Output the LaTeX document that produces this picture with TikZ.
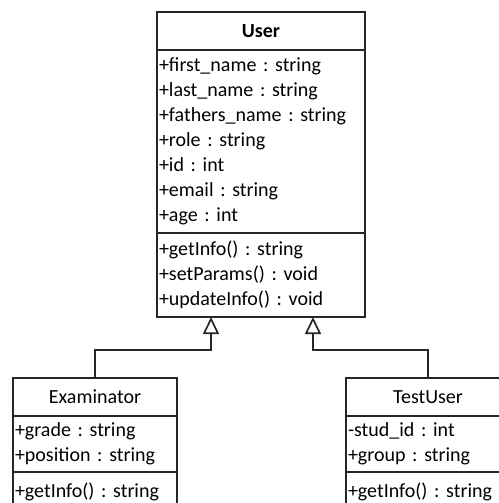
\documentclass[tikz,border=0pt]{standalone}
\usepackage{fontspec}
\setmainfont{Carlito}
\frenchspacing
\usetikzlibrary{arrows.meta,positioning}

\begin{document}
\begin{tikzpicture}[
    x=1pt, y=1pt,
    font=\fontsize{10}{12.5}\selectfont,
    classname/.style={draw=black!85, line width=.85pt, outer sep=0pt,
      inner xsep=1pt, inner ysep=2pt, align=center, text width=#1,
      minimum height=19pt},
    fields/.style={draw=black!85, line width=.85pt, outer sep=0pt,
      inner xsep=1pt, inner ysep=2pt, align=left, text width=#1},
    gen/.style={-{Triangle[open, length=8.5pt, width=8pt]}, line width=.85pt,
      draw=black!85}
  ]
    \useasboundingbox (0,0) rectangle (249,-251.5);
    \node[classname=102pt, font=\fontsize{10}{12.5}\selectfont\bfseries] (user) at (130.5,-15.5) {User};
    \node[fields=102pt, minimum height=91.5pt, below=0pt of user] (userattr)
      {+first\_name : string\\+last\_name : string\\+fathers\_name : string\\+role : string\\+id : int\\+email : string\\+age : int};
    \node[fields=102pt, minimum height=42pt, below=0pt of userattr] (userops)
      {+getInfo() : string\\+setParams() : void\\+updateInfo() : void};
    \node[classname=80pt] (exam) at (47.5,-198.5) {Examinator};
    \node[fields=80pt, minimum height=28pt, below=0pt of exam] (examattr)
      {+grade : string\\+position : string};
    \node[fields=80pt, minimum height=20pt, below=0pt of examattr] (examops)
      {+getInfo() : string};
    \node[classname=80pt] (test) at (214,-198.5) {TestUser};
    \node[fields=80pt, minimum height=28pt, below=0pt of test] (testattr)
      {-stud\_id : int\\+group : string};
    \node[fields=80pt, minimum height=20pt, below=0pt of testattr] (testops)
      {+getInfo() : string};
    \coordinate (lhook) at ([xshift=-25pt]userops.south);
    \coordinate (rhook) at ([xshift=26pt]userops.south);
    \draw[gen] (exam.north) -- ++(0,14) -| (lhook);
    \draw[gen] (test.north) -- ++(0,14) -| (rhook);
  \end{tikzpicture}
\end{document}
